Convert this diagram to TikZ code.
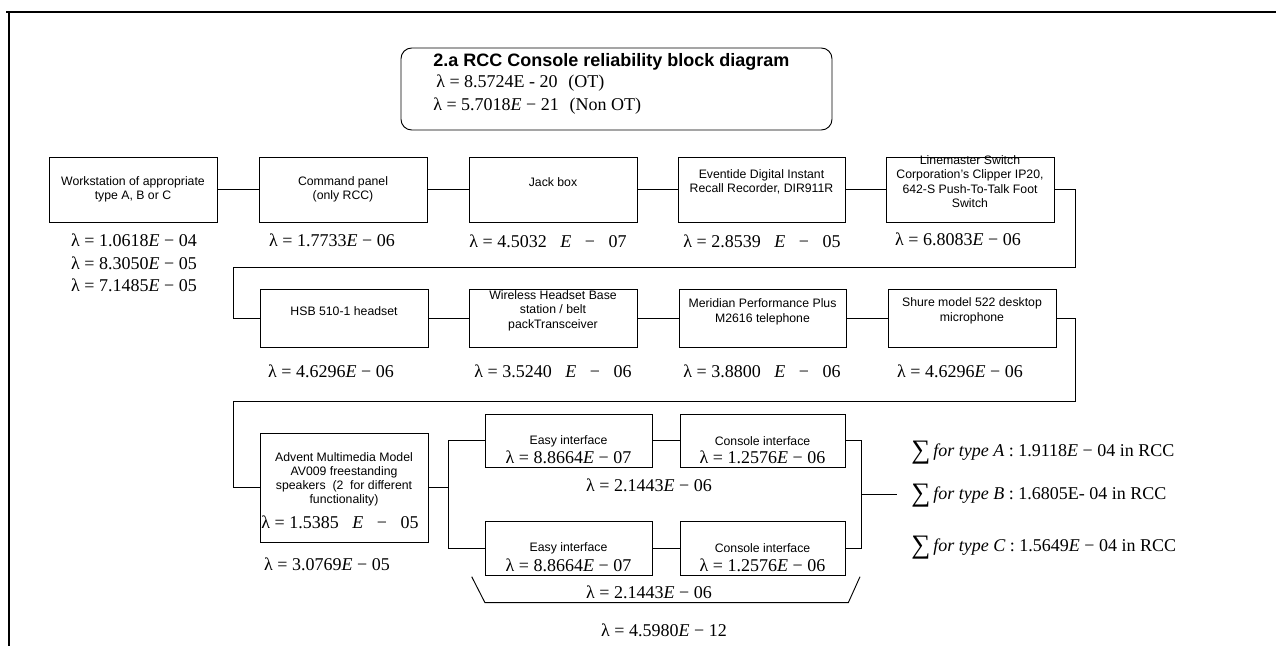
\documentclass[tikz,border=0pt]{standalone}
\usepackage{fontspec}
\setmainfont{Liberation Serif}
\setsansfont{Liberation Sans}
\usetikzlibrary{fit}
\newcommand{\mE}{\textit{E}}
\newcommand{\wsp}{\hspace{0.75em}}
\begin{document}
\begin{tikzpicture}[x=0.75pt,y=-0.75pt,
  box/.style={draw, line width=0.7pt, inner sep=0pt},
  btxt/.style={font=\sffamily\fontsize{9.2pt}{10.8pt}\selectfont, align=center, inner sep=0pt},
  lam/.style={font=\fontsize{13.5pt}{16pt}\selectfont, inner sep=0pt},
  sumtxt/.style={font=\fontsize{13.5pt}{16pt}\selectfont, inner sep=0pt, anchor=west},
  wire/.style={line width=0.7pt}]
\useasboundingbox (0,0) rectangle (1279,646);
% frame
\draw[line width=1.5pt] (6,12) -- (1276,12);
\draw[line width=2.2pt] (9,12) -- (9,646);
% title
\node[box, rounded corners=8pt, fit={(401,48)(832,130)}] (title) {};
\node[anchor=west, inner sep=0pt, font=\sffamily\bfseries\fontsize{13.5pt}{15pt}\selectfont] (ttl) at (433,62) {2.a RCC Console reliability block diagram};
\node[anchor=west, lam] (tl1) at (436,83.5) {λ = 8.5724E - 20\hspace{0.6em}(OT)};
\node[anchor=west, lam] (tl2) at (433,106) {λ = 5.7018\mE{} − 21\hspace{0.6em}(Non OT)};
% row 1
\node[box, fit={(49,157)(217,222)}] (b1) {};
\node[box, fit={(259,157)(427,222)}] (b2) {};
\node[box, fit={(469,157)(637,222)}] (b3) {};
\node[box, fit={(678,157)(845,222)}] (b4) {};
\node[box, fit={(886,157)(1054,222)}] (b5) {};
\node[btxt] (b1t) at (133,189.5) {Workstation of appropriate\\type A, B or C};
\node[btxt] (b2t) at (343,189.5) {Command panel\\(only RCC)};
\node[btxt] (b3t) at (553,181.7) {Jack box};
\node[btxt] (b4t) at (761.5,182) {Eventide Digital Instant\\Recall Recorder, DIR911R};
\node[btxt] (b5t) at (970,181.5) {Linemaster Switch\\Corporation's Clipper IP20,\\642-S Push-To-Talk Foot\\Switch};
\node[lam] (l1a) at (134,240) {λ = 1.0618\mE{} − 04};
\node[lam] (l1b) at (134,263) {λ = 8.3050\mE{} − 05};
\node[lam] (l1c) at (134,285) {λ = 7.1485\mE{} − 05};
\node[lam] (l2) at (332,240) {λ = 1.7733\mE{} − 06};
\node[lam] (l3) at (548,241.5) {λ = 4.5032\wsp\mE\wsp−\wsp07};
\node[lam] (l4) at (762,241.5) {λ = 2.8539\wsp\mE\wsp−\wsp05};
\node[lam] (l5) at (958,239.5) {λ = 6.8083\mE{} − 06};
% row 2
\node[box, fit={(260,289.5)(428,347.5)}] (b6) {};
\node[box, fit={(469,289.5)(637,347.5)}] (b7) {};
\node[box, fit={(679,289.5)(846,347.5)}] (b8) {};
\node[box, fit={(888,289.5)(1056,347.5)}] (b9) {};
\node[btxt] (b6t) at (344,310.7) {HSB 510-1 headset};
\node[btxt] (b7t) at (553,310.7) {Wireless Headset Base\\station / belt\\packTransceiver};
\node[btxt] (b8t) at (762.5,311.7) {Meridian Performance Plus\\M2616 telephone};
\node[btxt] (b9t) at (972,311) {Shure model 522 desktop\\microphone};
\node[lam] (l6) at (331,371.5) {λ = 4.6296\mE{} − 06};
\node[lam] (l7) at (553,371.5) {λ = 3.5240\wsp\mE\wsp−\wsp06};
\node[lam] (l8) at (762,371.5) {λ = 3.8800\wsp\mE\wsp−\wsp06};
\node[lam] (l9) at (960,371.5) {λ = 4.6296\mE{} − 06};
% row 3
\node[box, fit={(260,433)(428,542)}] (b10) {};
\node[btxt, font=\sffamily\fontsize{9.2pt}{10.6pt}\selectfont] (b10t) at (344,479.6) {Advent Multimedia Model\\AV009 freestanding\\speakers\ \ (2\ \ for different\\functionality)};
\node[lam] (b10l) at (340,522.3) {λ = 1.5385\wsp\mE\wsp−\wsp05};
\node[lam] (l10) at (327,564) {λ = 3.0769\mE{} − 05};
\node[box, fit={(485,414)(652,467)}] (e1) {};
\node[box, fit={(680,414)(845,467)}] (c1) {};
\node[box, fit={(485,521.7)(652,575)}] (e2) {};
\node[box, fit={(680,521.7)(845,575)}] (c2) {};
\node[btxt] (e1t) at (568.5,441) {Easy interface};
\node[lam] (e1l) at (568.5,457.5) {λ = 8.8664\mE{} − 07};
\node[btxt] (c1t) at (762.5,441) {Console interface};
\node[lam] (c1l) at (762.5,457.5) {λ = 1.2576\mE{} − 06};
\node[btxt] (e2t) at (568.5,548.3) {Easy interface};
\node[lam] (e2l) at (568.5,565.7) {λ = 8.8664\mE{} − 07};
\node[btxt] (c2t) at (762.5,548.3) {Console interface};
\node[lam] (c2l) at (762.5,565.7) {λ = 1.2576\mE{} − 06};
\node[lam] (p1) at (649,485) {λ = 2.1443\mE{} − 06};
\node[lam] (p2) at (649,592.7) {λ = 2.1443\mE{} − 06};
\node[lam] (p3) at (664,630) {λ = 4.5980\mE{} − 12};
% sums
\node[sumtxt] (s1) at (911,453) {\raisebox{-0.12em}{\fontsize{20pt}{20pt}\selectfont ∑}\,\textit{for type A} : 1.9118\mE{} − 04 in RCC};
\node[sumtxt] (s2) at (911,496) {\raisebox{-0.12em}{\fontsize{20pt}{20pt}\selectfont ∑}\,\textit{for type B} : 1.6805E- 04 in RCC};
\node[sumtxt] (s3) at (911,548) {\raisebox{-0.12em}{\fontsize{20pt}{20pt}\selectfont ∑}\,\textit{for type C} : 1.5649\mE{} − 04 in RCC};
% connectors
\coordinate (r1a) at (1075,267);
\coordinate (r1b) at (233,267);
\coordinate (r2a) at (1075,401);
\coordinate (r2b) at (233,401);
\coordinate (sp) at (448.3,487.5);
\coordinate (jn) at (861.7,494);
\coordinate (out) at (897,494);
\draw[wire] (b1) -- (b2);
\draw[wire] (b2) -- (b3);
\draw[wire] (b3) -- (b4);
\draw[wire] (b4) -- (b5);
\draw[wire] (b5.east) -| (r1a) -- (r1b) |- (b6.west);
\draw[wire] (b6) -- (b7);
\draw[wire] (b7) -- (b8);
\draw[wire] (b8) -- (b9);
\draw[wire] (b9.east) -| (r2a) -- (r2b) |- (b10.west);
\draw[wire] (b10.east) -- (sp);
\draw[wire] (e1.west) -| (sp) |- (e2.west);
\draw[wire] (e1) -- (c1);
\draw[wire] (e2) -- (c2);
\draw[wire] (c1.east) -| (jn) |- (c2.east);
\draw[wire] (jn) -- (out);
% bracket
\coordinate (k1) at (471.7,576.7);
\coordinate (k2) at (485,602.7);
\coordinate (k3) at (848.3,602.7);
\coordinate (k4) at (860,576.7);
\draw[wire] (k1) -- (k2) -- (k3) -- (k4);
\end{tikzpicture}
\end{document}
